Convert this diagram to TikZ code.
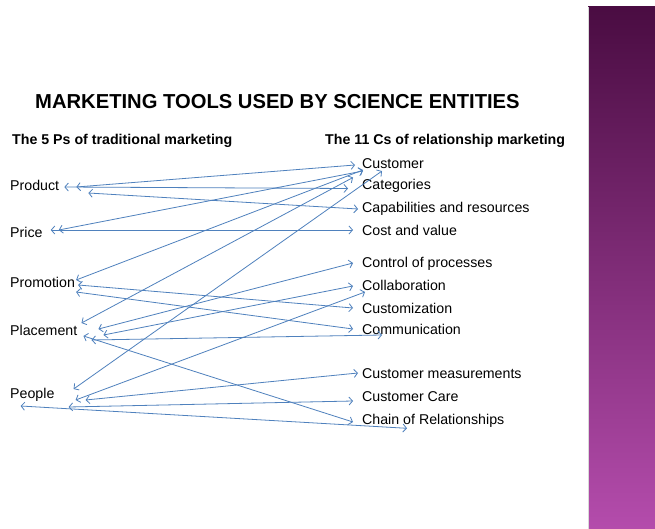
\documentclass[tikz,border=0pt]{standalone}
\usepackage{fontspec}
\setmainfont{Liberation Sans}
\usetikzlibrary{arrows.meta}
\definecolor{linkblue}{HTML}{4F81BD}
\definecolor{bartop}{HTML}{4A0C42}
\definecolor{barbottom}{HTML}{B44CAC}

\begin{document}
\begin{tikzpicture}[
        x=1pt, y=-1pt,
        item/.style = {anchor=base west, inner sep=0pt, font=\fontsize{14.2}{16}\selectfont},
        head/.style = {anchor=base west, inner sep=0pt, font=\bfseries\fontsize{14.2}{16}\selectfont},
        link/.style = {<->, draw=linkblue, line width=0.8pt, >={Straight Barb[length=3.5pt,width=8pt]}}
    ]
    \useasboundingbox[fill=white] (0,0) rectangle (655,529);

    % side bar
    \shade[top color=bartop, bottom color=barbottom] (588,7) rectangle (655,529);
    \draw[gray!30, line width=0.8pt] (588.4,7) -- (588.4,529);

    % titles
    \node[anchor=base west, inner sep=0pt, font=\bfseries\fontsize{20.2}{24}\selectfont] (title) at (35,109) {MARKETING TOOLS USED BY SCIENCE ENTITIES};
    \node[head] (ps) at (12,145) {The 5 Ps of traditional marketing};
    \node[head] (cs) at (325,145) {The 11 Cs of relationship marketing};

    % 5 Ps
    \node[item] (product) at (10,191) {Product};
    \node[item] (price) at (10,237.5) {Price};
    \node[item] (promotion) at (10,287) {Promotion};
    \node[item] (placement) at (10,335) {Placement};
    \node[item] (people) at (10,398.5) {People};

    % 11 Cs
    \node[item] (customer) at (362,169) {Customer};
    \node[item] (categories) at (362,189.5) {Categories};
    \node[item] (capabilities) at (362,212.7) {Capabilities and resources};
    \node[item] (cost) at (362,235.5) {Cost and value};
    \node[item] (control) at (362,267) {Control of processes};
    \node[item] (collaboration) at (362,290) {Collaboration};
    \node[item] (customization) at (362,313.5) {Customization};
    \node[item] (communication) at (362,334) {Communication};
    \node[item] (measurements) at (362,378.5) {Customer measurements};
    \node[item] (care) at (362,401) {Customer Care};
    \node[item] (chain) at (362,424) {Chain of Relationships};

    % links
    \foreach \a/\ax/\ay/\b/\bx/\by in {
        product/5/4/categories/-14/1,
        product/17/4/customer/-7/4,
        product/29/-2/capabilities/-4/3.7,
        price/8/7.5/cost/-9/5.5,
        price/16/7.5/customer/1/-2,
        promotion/1/7/customer/1/-1,
        promotion/3/2/customization/-9/5.5,
        promotion/1/-5/communication/-9/5,
        placement/4/12/customer/-9/-8.5,
        placement/21/6/control/-9/4,
        placement/26/0/collaboration/-9/4,
        placement/14/-5/communication/20/-1,
        placement/6/-1/chain/-9/2,
        people/19/9.5/customer/20/-2,
        people/21/-1.5/collaboration/3/-2,
        people/31/-1.5/measurements/-4/5.5,
        people/14/-8.5/care/-9/0,
        people/-34/-7.5/chain/45/-4.3} {
        \draw[link] ([xshift=\ax pt, yshift=\ay pt]\a.base east) -- ([xshift=\bx pt, yshift=\by pt]\b.base west);
    }

\end{tikzpicture}
\end{document}
